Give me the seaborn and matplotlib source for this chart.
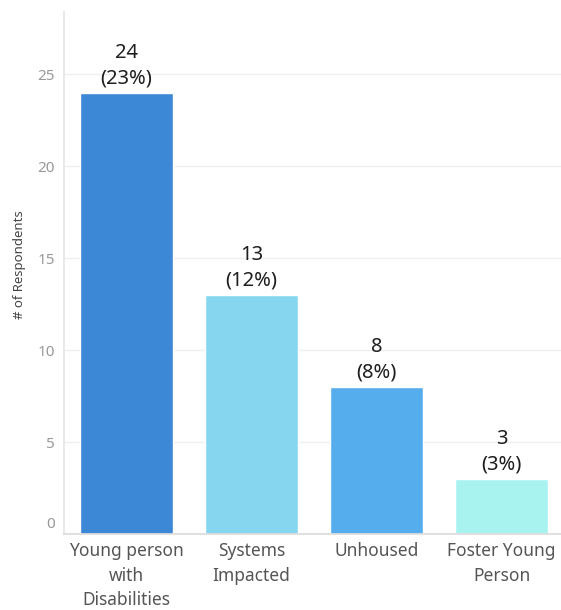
import matplotlib
matplotlib.use("Agg")
import matplotlib.pyplot as plt
import matplotlib.transforms as mtrans
import seaborn as sns
import pandas as pd
from matplotlib.ticker import FixedLocator

categories = ["Young person\nwith\nDisabilities", "Systems\nImpacted", "Unhoused", "Foster Young\nPerson"]
counts = [24, 13, 8, 3]
percents = ["23%", "12%", "8%", "3%"]
colors = ["#3C87D6", "#87D6F0", "#56ADEE", "#A8F3EF"]
yticks = [0, 5, 10, 15, 20, 25]

sns.set_theme(style="white")
plt.rcParams['font.family'] = ['Noto Sans', 'DejaVu Sans']

df = pd.DataFrame({"category": categories, "count": counts})

fig = plt.figure(figsize=(5.61, 6.10), dpi=100)
ax = fig.add_axes([64/561, 1-534/610, 1-64/561, (534-12)/610])

sns.barplot(data=df, x="category", y="count", hue="category", palette=colors,
            legend=False, width=0.75, ax=ax, saturation=1)

ax.set_xlim(-0.5, 3.475)
ax.set_ylim(0, 28.4)
ax.set_yticks(yticks)
ax.set_yticklabels([str(t) for t in yticks], color="#999999", fontsize=11)
ax.yaxis.grid(True, color="#EFEFEF", linewidth=1)
ax.set_axisbelow(True)

ax.tick_params(axis="x", length=0, pad=6, labelsize=12.5, labelcolor="#555555")
for lbl in ax.get_xticklabels():
    lbl.set_linespacing(1.45)
ax.tick_params(axis="y", length=0, pad=6.5)
ax.xaxis.set_minor_locator(FixedLocator([0.5, 1.5, 2.5]))
ax.tick_params(axis="x", which="minor", length=6, color="#DDDDDD", width=1)

# Tableau-style: zero label sits slightly above its gridline
zero_lbl = ax.get_yticklabels()[0]
zero_lbl.set_transform(zero_lbl.get_transform() +
                       mtrans.ScaledTranslation(0, 8/72, fig.dpi_scale_trans))

for s in ["top", "right"]:
    ax.spines[s].set_visible(False)
ax.spines["left"].set_color("#E6E6E6")
ax.spines["bottom"].set_color("#DDDDDD")

ax.set_xlabel("")
ax.set_ylabel("# of Respondents", fontsize=9.5, color="#444444")
ax.yaxis.set_label_coords((26 - 64) / 497, (534 - 265) / 522)

for i, (c, p) in enumerate(zip(counts, percents)):
    ax.annotate(f"{c}\n({p})", xy=(i, c), xytext=(0, 3), textcoords="offset points",
                ha="center", va="bottom", fontsize=14.5, color="#1E1E1E", linespacing=1.4)

fig.savefig("out.png", dpi=100)
